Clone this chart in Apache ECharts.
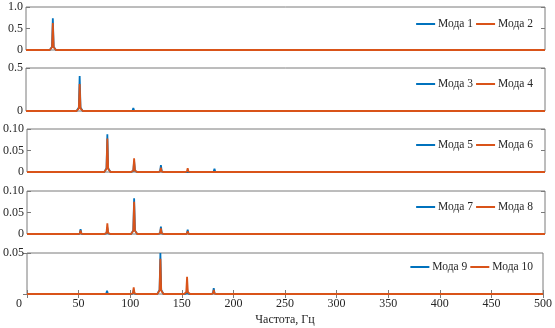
<!DOCTYPE html>
<html>
<head>
<meta charset="utf-8">
<script src="https://cdn.jsdelivr.net/npm/echarts@6/dist/echarts.min.js"></script>
<style>
  html, body { margin: 0; padding: 0; background: #fff; }
  #chart { width: 555px; height: 328px; }
</style>
</head>
<body>
<div id="chart"></div>
<script>
// Harmonic frequencies (Hz) at which the spectral peaks sit
const harmonicsHz = [25.85, 51.7, 77.55, 103.4, 129.25, 155.1, 180.95, 206.8, 232.65];

// Peak amplitudes of each mode at the harmonics above
const mode1  = [0.74,  0.004, 0.003,  0.003, 0.002, 0,      0,      0,     0];
const mode2  = [0.63,  0.003, 0.002,  0.002, 0,     0,      0,      0,     0];
const mode3  = [0.005, 0.407, 0.003,  0.035, 0.004, 0.002,  0,      0,     0.002];
const mode4  = [0.004, 0.314, 0.002,  0.010, 0.002, 0,      0,      0,     0];
const mode5  = [0.001, 0.003, 0.0877, 0.025, 0.016, 0.004,  0.0077, 0.001, 0.0035];
const mode6  = [0.003, 0.004, 0.078,  0.032, 0.010, 0.0086, 0.004,  0.001, 0.002];
const mode7  = [0,     0.011, 0.015,  0.083, 0.017, 0.010,  0.002,  0.003, 0];
const mode8  = [0,     0.008, 0.025,  0.075, 0.013, 0.006,  0.003,  0.002, 0];
const mode9  = [0.001, 0.001, 0.004,  0.005, 0.050, 0.006,  0.007,  0.002, 0.002];
const mode10 = [0,     0.001, 0.002,  0.008, 0.043, 0.021,  0.005,  0.001, 0.001];

const modeNames = ['Мода 1', 'Мода 2', 'Мода 3', 'Мода 4', 'Мода 5',
                   'Мода 6', 'Мода 7', 'Мода 8', 'Мода 9', 'Мода 10'];
const modeValues = [mode1, mode2, mode3, mode4, mode5, mode6, mode7, mode8, mode9, mode10];

// Y-axis ranges of the five panels
const yMax  = [1.0, 0.5, 0.10, 0.10, 0.05];
const yStep = [0.5, 0.5, 0.05, 0.05, 0.05];
const yDecimals = [1, 1, 2, 2, 2];

const freqMin = 0, freqMax = 500, freqStep = 50;
const xTitle = 'Частота, Гц';

// ---- layout / style ----
const panelTop    = [7, 68, 129, 191, 253];
const panelHeight = [43, 43, 43, 43, 41];
const legendTop   = [18, 78, 139, 201, 261];
const blue = '#0072BD', orange = '#D95319';
const frame = '#7a7a7a';
const font = '"Liberation Serif", "Times New Roman", serif';
const textColor = '#262626';

// Spectrum outline of one mode: flat zero line with a narrow peak at every harmonic
function spectrum(amps) {
  const pts = [[freqMin, 0]];
  harmonicsHz.forEach((f, k) => {
    const a = amps[k];
    if (a <= 0) return;
    pts.push([f - 3, 0], [f - 0.8, a * 0.1], [f, a], [f + 0.8, a * 0.1], [f + 3, 0]);
  });
  pts.push([freqMax, 0]);
  return pts;
}

const grid = [], xAxis = [], yAxis = [], series = [], legend = [];

for (let i = 0; i < 5; i++) {
  const last = i === 4;
  grid.push({
    left: 26, right: 10, top: panelTop[i], height: panelHeight[i],
    show: true, borderColor: frame, borderWidth: 1, backgroundColor: 'transparent'
  });

  const tickStyle = { show: true, inside: true, length: 4, lineStyle: { color: frame, width: 1 } };

  xAxis.push({
    gridIndex: i, type: 'value', min: freqMin, max: freqMax, interval: freqStep,
    axisLine: { show: false }, splitLine: { show: false },
    axisTick: last ? tickStyle : { show: false },
    axisLabel: last ? {
      show: true, fontFamily: font, fontSize: 12, color: textColor, margin: 4,
      formatter: v => v === 0 ? '{z|0}' : String(v),
      rich: { z: { fontFamily: font, fontSize: 12, color: textColor, padding: [0, 16, 0, 0] } }
    } : { show: false },
    name: last ? xTitle : '', nameLocation: 'middle', nameGap: 20,
    nameTextStyle: { fontFamily: font, fontSize: 12, color: textColor }
  });
  if (last) {
    xAxis.push({
      gridIndex: i, type: 'value', position: 'top', min: freqMin, max: freqMax, interval: freqStep,
      axisLine: { show: false }, splitLine: { show: false },
      axisTick: tickStyle, axisLabel: { show: false }
    });
  }

  const dec = yDecimals[i];
  yAxis.push({
    gridIndex: i, type: 'value', min: 0, max: yMax[i], interval: yStep[i],
    axisLine: { show: false }, splitLine: { show: false },
    axisTick: tickStyle,
    axisLabel: {
      fontFamily: font, fontSize: 12, color: textColor, margin: 3,
      formatter: v => {
        if (Math.abs(v) < 1e-9) return last ? '' : '0';
        return v.toFixed(dec);
      }
    }
  });
  yAxis.push({
    gridIndex: i, type: 'value', position: 'right', min: 0, max: yMax[i], interval: yStep[i],
    axisLine: { show: false }, splitLine: { show: false },
    axisTick: tickStyle, axisLabel: { show: false }
  });

  const xIdx = last ? 4 : i;  // bottom x axis of this panel
  const nameA = modeNames[2 * i], nameB = modeNames[2 * i + 1];
  [[nameA, modeValues[2 * i], blue], [nameB, modeValues[2 * i + 1], orange]].forEach(([nm, vals, col]) => {
    series.push({
      name: nm, type: 'line', xAxisIndex: xIdx, yAxisIndex: 2 * i,
      data: spectrum(vals), showSymbol: false, symbol: 'none', clip: false,
      lineStyle: { color: col, width: 1.8 }, itemStyle: { color: col },
      animation: false, silent: true
    });
  });

  legend.push({
    data: [nameA, nameB], right: 22, top: legendTop[i], padding: 0,
    icon: 'rect', itemWidth: 19, itemHeight: 2, itemGap: 3,
    textStyle: { fontFamily: font, fontSize: 11.5, color: textColor, padding: [0, 0, 0, -2] },
    selectedMode: false
  });
}

const chart = echarts.init(document.getElementById('chart'), null, { renderer: 'canvas' });
chart.setOption({ animation: false, grid, xAxis, yAxis, series, legend });
</script>
</body>
</html>
